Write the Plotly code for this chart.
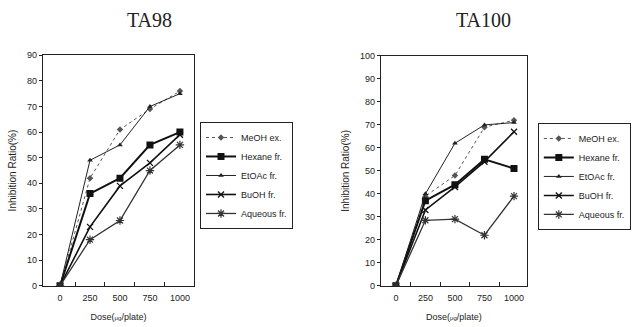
import plotly.graph_objects as go

doses = [0, 250, 500, 750, 1000]
series_names = ["MeOH ex.", "Hexane fr.", "EtOAc fr.", "BuOH fr.", "Aqueous fr."]

ta98_meoh = [0, 42, 61, 69, 76]
ta98_hexane = [0, 36, 42, 55, 60]
ta98_etoac = [0, 49, 55, 70, 75]
ta98_buoh = [0, 23, 39, 48, 59]
ta98_aqueous = [0, 18, 25.5, 45, 55]

ta100_meoh = [0, 39, 48, 69, 72]
ta100_hexane = [0, 37, 44, 55, 51]
ta100_etoac = [0, 40, 62, 70, 71]
ta100_buoh = [0, 33, 43, 54, 67]
ta100_aqueous = [0, 28.5, 29, 22, 39]

ta98_y_ticks = [0, 10, 20, 30, 40, 50, 60, 70, 80, 90]
ta100_y_ticks = [0, 10, 20, 30, 40, 50, 60, 70, 80, 90, 100]

styles = [
    dict(line=dict(color="#555", width=1, dash="dot"), marker=dict(symbol="diamond", size=5, color="#555")),
    dict(line=dict(color="#111", width=2), marker=dict(symbol="square", size=7, color="#111")),
    dict(line=dict(color="#222", width=1), marker=dict(symbol="triangle-up", size=5, color="#222")),
    dict(line=dict(color="#111", width=1.6), marker=dict(symbol="x-thin", size=6, color="#111", line=dict(width=1.3, color="#111"))),
    dict(line=dict(color="#333", width=1.3), marker=dict(symbol="asterisk-open", size=7, color="#333", line=dict(width=1.2, color="#333"))),
]

fig = go.Figure()
ta98 = [ta98_meoh, ta98_hexane, ta98_etoac, ta98_buoh, ta98_aqueous]
ta100 = [ta100_meoh, ta100_hexane, ta100_etoac, ta100_buoh, ta100_aqueous]

for name, ys, st in zip(series_names, ta98, styles):
    fig.add_trace(go.Scatter(x=doses, y=ys, name=name, mode="lines+markers",
                             xaxis="x", yaxis="y", legend="legend", **st))
for name, ys, st in zip(series_names, ta100, styles):
    fig.add_trace(go.Scatter(x=doses, y=ys, name=name, mode="lines+markers",
                             xaxis="x2", yaxis="y2", legend="legend2", **st))

tickfont = dict(family="Liberation Sans, Arial", size=9, color="#222")
axis_common = dict(showline=True, linecolor="#222", linewidth=1.2, mirror=True,
                   showgrid=False, zeroline=False, tickfont=tickfont, automargin=False)

xtitle = "Dose(<span style='font-size:6px'>μg</span>/plate)"
legfont = dict(family="Liberation Sans, Arial", size=9, color="#222")
xtitlefont = dict(family="Liberation Sans, Arial", size=9, color="#222")
ytitlefont = dict(family="Liberation Sans, Arial", size=10, color="#222")

fig.update_layout(
    width=638, height=327,
    margin=dict(l=0, r=0, t=0, b=0, autoexpand=False),
    paper_bgcolor="white", plot_bgcolor="white",
    xaxis=dict(domain=[0.0674, 0.304], range=[-142, 1117], tickvals=doses, ticks="outside", ticklen=3,
               tickcolor="rgba(0,0,0,0)", anchor="y",
               minor=dict(tickvals=[125, 375, 625, 875], ticks="inside", ticklen=4, tickcolor="#222"),
               title=dict(text=xtitle, font=xtitlefont, standoff=12),
               **axis_common),
    yaxis=dict(domain=[0.126, 0.831], range=[0, 90], tickvals=ta98_y_ticks, ticks="outside", ticklen=3,
               tickcolor="#222", anchor="x",
               title=dict(text="Inhibition Ratio(%)", font=ytitlefont, standoff=8),
               **axis_common),
    xaxis2=dict(domain=[0.597, 0.826], range=[-127, 1110], tickvals=doses, ticks="outside", ticklen=3,
                tickcolor="rgba(0,0,0,0)", anchor="y2",
                minor=dict(tickvals=[125, 375, 625, 875], ticks="inside", ticklen=4, tickcolor="#222"),
                title=dict(text=xtitle, font=xtitlefont, standoff=12),
                **axis_common),
    yaxis2=dict(domain=[0.126, 0.829], range=[0, 100], tickvals=ta100_y_ticks, ticks="outside", ticklen=3,
                tickcolor="#222", anchor="x2",
                title=dict(text="Inhibition Ratio(%)", font=ytitlefont, standoff=8),
                **axis_common),
    legend=dict(x=0.3135, y=0.627, xanchor="left", yanchor="top", bordercolor="#222", borderwidth=1,
                bgcolor="white", font=legfont, itemwidth=30, tracegroupgap=0),
    legend2=dict(x=0.843, y=0.624, xanchor="left", yanchor="top", bordercolor="#222", borderwidth=1,
                 bgcolor="white", font=legfont, itemwidth=30, tracegroupgap=0),
    annotations=[
        dict(text="TA98", x=149 / 638, y=1 - 20 / 327, xref="paper", yref="paper", showarrow=False,
             xanchor="center", yanchor="middle",
             font=dict(family="Liberation Serif, Times New Roman", size=20, color="#222")),
        dict(text="TA100", x=483 / 638, y=1 - 20 / 327, xref="paper", yref="paper", showarrow=False,
             xanchor="center", yanchor="middle",
             font=dict(family="Liberation Serif, Times New Roman", size=20, color="#222")),
    ],
)

fig.write_html("out.html", config={"displayModeBar": False},
               post_script="document.body.style.margin='0';document.body.style.padding='0';")
